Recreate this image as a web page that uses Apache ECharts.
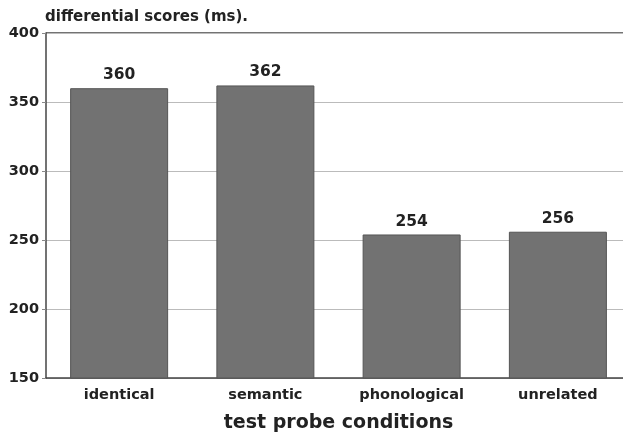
<!DOCTYPE html>
<html><head><meta charset="utf-8">
<script src="https://cdn.jsdelivr.net/npm/echarts@6/dist/echarts.min.js"></script>
<style>html,body{margin:0;padding:0;background:#fff}#c{width:623px;height:432px}</style>
</head><body><div id="c"></div>
<script>
const categories = ['identical', 'semantic', 'phonological', 'unrelated'];
const scores = [360, 362, 254, 256];
const yTicks = [150, 200, 250, 300, 350, 400];

const chart = echarts.init(document.getElementById('c'), null, {renderer: 'canvas'});
const font = 'DejaVu Sans, Liberation Sans, sans-serif';
chart.setOption({
  animation: false,
  grid: {left: 46, right: -8, top: 33, bottom: 54, containLabel: false, outerBoundsMode: 'none'},
  graphic: [{type: 'line', shape: {x1: 46, y1: 33, x2: 623, y2: 33}, style: {stroke: '#444', lineWidth: 1.5}}],
  xAxis: {
    type: 'category', data: categories,
    name: 'test probe conditions', nameLocation: 'middle', nameGap: 36,
    nameTextStyle: {fontFamily: font, fontWeight: 'bold', fontSize: 19, color: '#222'},
    axisLine: {lineStyle: {color: '#444', width: 1.5}},
    axisTick: {show: false},
    axisLabel: {fontFamily: font, fontWeight: 'bold', fontSize: 14.5, color: '#222', margin: 10}
  },
  yAxis: {
    type: 'value', min: 150, max: 400, interval: 50,
    name: 'differential scores (ms).', nameLocation: 'end', nameGap: 8,
    nameTextStyle: {fontFamily: font, fontWeight: 'bold', fontSize: 15, color: '#222', align: 'left', padding: [0, 0, 0, -1]},
    axisLine: {show: true, lineStyle: {color: '#444', width: 1.5}},
    axisTick: {show: true, length: 4, lineStyle: {color: '#888'}},
    axisLabel: {fontFamily: font, fontWeight: 'bold', fontSize: 14.5, color: '#222', margin: 7,
      formatter: v => yTicks.includes(v) ? String(v) : ''},
    splitLine: {show: true, lineStyle: {color: '#bbb', width: 1}}
  },
  series: [{
    type: 'bar', data: scores, barWidth: 98,
    itemStyle: {color: '#727272', borderColor: '#555', borderWidth: 1},
    label: {show: true, position: 'top', distance: 5, fontFamily: font, fontWeight: 'bold', fontSize: 15.5, color: '#222'}
  }]
});
</script></body></html>
